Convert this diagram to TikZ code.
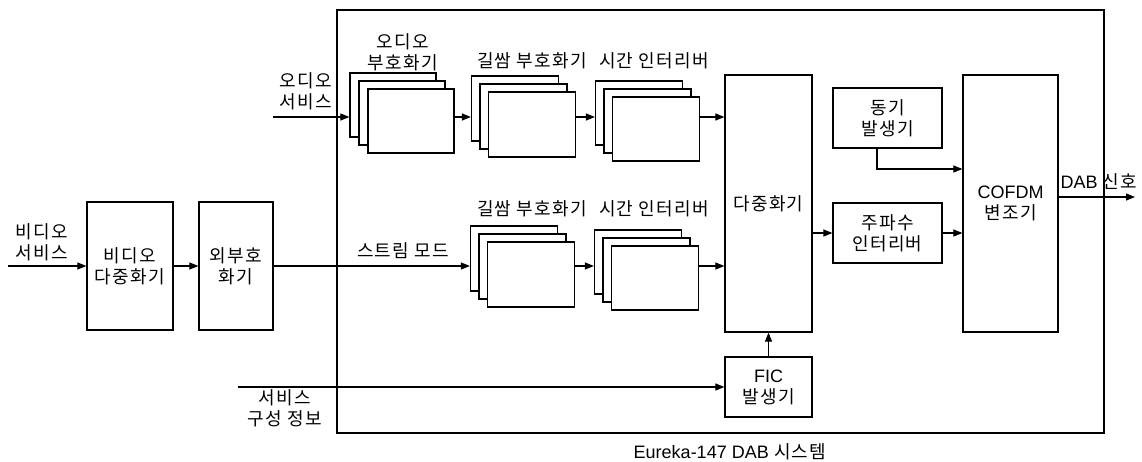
\documentclass[tikz,border=0pt]{standalone}
\usepackage{fontspec}
\setmainfont{Noto Sans CJK KR}[LetterSpace=7]
\newfontfamily\lat{Liberation Sans}
\usetikzlibrary{arrows.meta,calc}
\begin{document}
\begin{tikzpicture}[x=1pt,y=-1pt,
  every node/.style={font=\fontsize{18}{21}\selectfont},
  blk/.style={draw,line width=1.2pt,fill=white,inner sep=0pt,align=center},
  arr/.style={line width=1.1pt,-{Triangle[length=9pt,width=7pt]}},
  ln/.style={line width=1.1pt},
  lbl/.style={align=center,inner sep=0pt}]
\useasboundingbox (0,0) rectangle (1142,461);
% system frame
\node[draw,line width=1.2pt,inner sep=0pt,minimum width=767pt,minimum height=423pt] (sys) at (720.5,221.5) {};
\node[lbl] (cap) at (730,452) {{\lat Eureka-147 DAB} 시스템};
% left blocks
\node[blk,minimum width=86pt,minimum height=128pt] (vmux) at (130,266) {비디오\\다중화기};
\node[blk,minimum width=74pt,minimum height=128pt] (outer) at (236,266) {외부호\\화기};
% audio coder stack
\node[blk,minimum width=86pt,minimum height=64pt] (aback) at (393,105) {};
\node[blk,minimum width=86pt,minimum height=64pt] (amid) at (402,113) {};
\node[blk,minimum width=86pt,minimum height=64pt] (afront) at (411,121) {};
% top conv coder stack
\node[blk,minimum width=87pt,minimum height=65pt] (cback) at (515,108.5) {};
\node[blk,minimum width=87pt,minimum height=65pt] (cmid) at (523.5,116.5) {};
\node[blk,minimum width=87pt,minimum height=65pt] (cfront) at (532,124.5) {};
% top time interleaver stack
\node[blk,minimum width=87pt,minimum height=64pt] (tback) at (639,113) {};
\node[blk,minimum width=87pt,minimum height=64pt] (tmid) at (647.5,121) {};
\node[blk,minimum width=87pt,minimum height=64pt] (tfront) at (656,129) {};
% lower conv coder stack
\node[blk,minimum width=87pt,minimum height=65pt] (lcback) at (514,258.5) {};
\node[blk,minimum width=87pt,minimum height=65pt] (lcmid) at (522.5,266.5) {};
\node[blk,minimum width=87pt,minimum height=65pt] (lcfront) at (531,274.5) {};
% lower time interleaver stack
\node[blk,minimum width=87pt,minimum height=64pt] (ltback) at (638,262) {};
\node[blk,minimum width=87pt,minimum height=64pt] (ltmid) at (646.5,270) {};
\node[blk,minimum width=87pt,minimum height=64pt] (ltfront) at (655,278) {};
% right blocks
\node[blk,minimum width=87pt,minimum height=257pt] (mux) at (768.5,203.5) {다중화기};
\node[blk,minimum width=87pt,minimum height=60pt] (fic) at (768.5,387) {{\lat FIC}\\발생기};
\node[blk,minimum width=109pt,minimum height=60pt] (sync) at (887.5,118) {동기\\발생기};
\node[blk,minimum width=109pt,minimum height=60pt] (freq) at (887.5,233) {주파수\\인터리버};
\node[blk,minimum width=95pt,minimum height=257pt] (cofdm) at (1010.5,203.5) {{\lat COFDM}\\변조기};
% labels
\node[lbl] (lv) at (42,242) {비디오\\서비스};
\node[lbl] (la) at (306,91) {오디오\\서비스};
\node[lbl] (lac) at (403,52) {오디오\\부호화기};
\node[lbl] (lc1) at (532,61) {길쌈 부호화기};
\node[lbl] (lt1) at (654,61) {시간 인터리버};
\node[lbl] (lc2) at (532,209) {길쌈 부호화기};
\node[lbl] (lt2) at (654,209) {시간 인터리버};
\node[lbl] (ls) at (403,251) {스트림 모드};
\node[lbl] (lsi) at (285,408) {서비스\\구성 정보};
\node[lbl] (ld) at (1099,182) {{\lat DAB} 신호};
% connectors
\coordinate (vin) at (8,266);
\coordinate (ain) at (273,117);
\coordinate (sin) at (238,387);
\coordinate (out) at (1135,197);
\draw[arr] (vin) -- (vmux.west);
\draw[arr] (vmux.east) -- (outer.west);
\draw[arr] (outer.east) -- (outer.east -| lcback.west);
\draw[arr] (lcfront.east |- outer.east) -- (ltback.west |- outer.east);
\draw[arr] (ltfront.east |- outer.east) -- (mux.west |- outer.east);
\draw[arr] (ain) -- (aback.west |- ain);
\draw[arr] (afront.east |- ain) -- (cback.west |- ain);
\draw[arr] (cfront.east |- ain) -- (tback.west |- ain);
\draw[arr] (tfront.east |- ain) -- (mux.west |- ain);
\draw[arr] (sin) -- (fic.west);
\draw[arr] (fic.north) -- (mux.south);
\draw[arr] (mux.east |- freq.west) -- (freq.west);
\draw[arr] (freq.east) -- (cofdm.west |- freq.east);
\draw[arr] ([xshift=-10.5pt]sync.south) |- (cofdm.west |- 0,169);
\draw[arr] (cofdm.east |- out) -- (out);
\end{tikzpicture}
\end{document}
